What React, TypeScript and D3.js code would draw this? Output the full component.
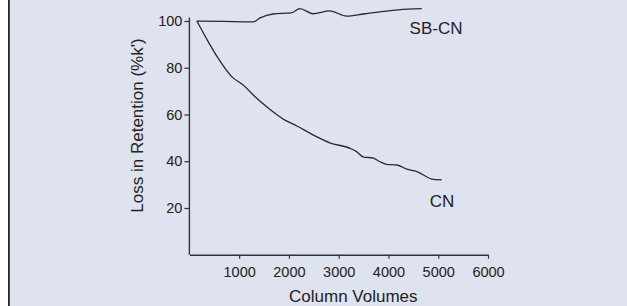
import React, { useEffect, useRef } from "react";
import * as d3 from "d3";

// column volumes / % retention
var sbcnVolumes = [150, 700, 1280, 1420, 1680, 2050, 2220, 2480, 2820, 3160, 3500, 3830, 4200, 4670];
var sbcnValues = [100, 99.8, 99.6, 101.3, 103, 103.5, 105.3, 103.1, 104.3, 102.1, 103, 103.9, 104.8, 105.3];

var cnVolumes = [150, 380, 580, 850, 1080, 1320, 1590, 1920, 2160, 2490, 2820, 3230, 3360, 3490, 3700, 3830, 3960, 4170, 4370, 4570, 4870, 5070];
var cnValues = [100, 91.1, 84, 76.2, 72.6, 67.6, 62.7, 57.6, 55.1, 51.2, 47.9, 45.5, 44.1, 41.9, 41.3, 39.8, 38.7, 38.4, 36.6, 35.6, 32.4, 32];

var xTicks = [1000, 2000, 3000, 4000, 5000, 6000];
var yTicks = [20, 40, 60, 80, 100];

var seriesLabels = ["SB-CN", "CN"];

const W = 627;
const H = 306;
const FONT = "'Liberation Sans', Arial, sans-serif";

export default function App() {
  const ref = useRef<SVGSVGElement>(null);

  useEffect(() => {
    var svg = d3.select(ref.current);
    svg.selectAll("*").remove();

    svg.append("rect").attr("x", 0).attr("y", 0).attr("width", W).attr("height", H).attr("fill", "#ffffff");
    svg.append("rect").attr("x", 8).attr("y", 0).attr("width", W - 8).attr("height", H).attr("fill", "#dee3ef");
    svg.append("line")
      .attr("x1", 8.9).attr("x2", 8.9).attr("y1", 0).attr("y2", H)
      .attr("stroke", "#222").attr("stroke-width", 1.8);

    var xScale = d3.scaleLinear().domain([0, 6000]).range([189.4, 488.0]);
    var yScale = d3.scaleLinear().domain([0, 100]).range([254.75, 21]);

    var axisColor = "#333";

    // y axis
    var gy = svg.append("g").attr("transform", "translate(189.4,0)");
    gy.call(
      d3.axisLeft(yScale).tickValues(yTicks).tickSize(5).tickSizeOuter(0).tickPadding(2)
    );
    gy.select(".domain").attr("d", `M0,${yScale(101.5)}V${yScale(0)}`);

    // x axis
    var gx = svg.append("g").attr("transform", `translate(0,${yScale(0)})`);
    gx.call(
      d3.axisBottom(xScale).tickValues(xTicks).tickSize(4).tickSizeOuter(0).tickPadding(8).tickFormat(d3.format("d"))
    );

    [gx, gy].forEach(g => {
      g.select(".domain").attr("stroke", axisColor).attr("stroke-width", 1.4);
      g.selectAll(".tick line").attr("stroke", axisColor).attr("stroke-width", 1.2);
      g.selectAll(".tick text")
        .attr("fill", "#222")
        .style("font-family", FONT)
        .style("font-size", "14.5px");
    });

    var line = d3
      .line<[number, number]>()
      .x(d => xScale(d[0]))
      .y(d => yScale(d[1]))
      .curve(d3.curveMonotoneX);

    var sbcn = sbcnVolumes.map((v, i) => [v, sbcnValues[i]] as [number, number]);
    var cn = cnVolumes.map((v, i) => [v, cnValues[i]] as [number, number]);

    [sbcn, cn].forEach(data => {
      svg.append("path")
        .attr("d", line(data))
        .attr("fill", "none")
        .attr("stroke", "#2a2a2a")
        .attr("stroke-width", 1.3);
    });

    // series labels
    svg.append("text")
      .attr("x", 436).attr("y", 34.3)
      .attr("text-anchor", "middle")
      .style("font-family", FONT).style("font-size", "17px").attr("fill", "#222")
      .text(seriesLabels[0]);
    svg.append("text")
      .attr("x", 442).attr("y", 207.3)
      .attr("text-anchor", "middle")
      .style("font-family", FONT).style("font-size", "17px").attr("fill", "#222")
      .text(seriesLabels[1]);

    // axis titles
    svg.append("text")
      .attr("transform", "translate(143,125.5) rotate(-90)")
      .attr("text-anchor", "middle")
      .style("font-family", FONT).style("font-size", "17px").attr("fill", "#222")
      .text("Loss in Retention (%k')");
    svg.append("text")
      .attr("x", 353.3).attr("y", 301.5)
      .attr("text-anchor", "middle")
      .style("font-family", FONT).style("font-size", "17px").attr("fill", "#222")
      .text("Column Volumes");
  }, []);

  return (
    <svg
      ref={ref}
      width={W}
      height={H}
      style={{ position: "absolute", left: 0, top: 0, display: "block" }}
    />
  );
}
